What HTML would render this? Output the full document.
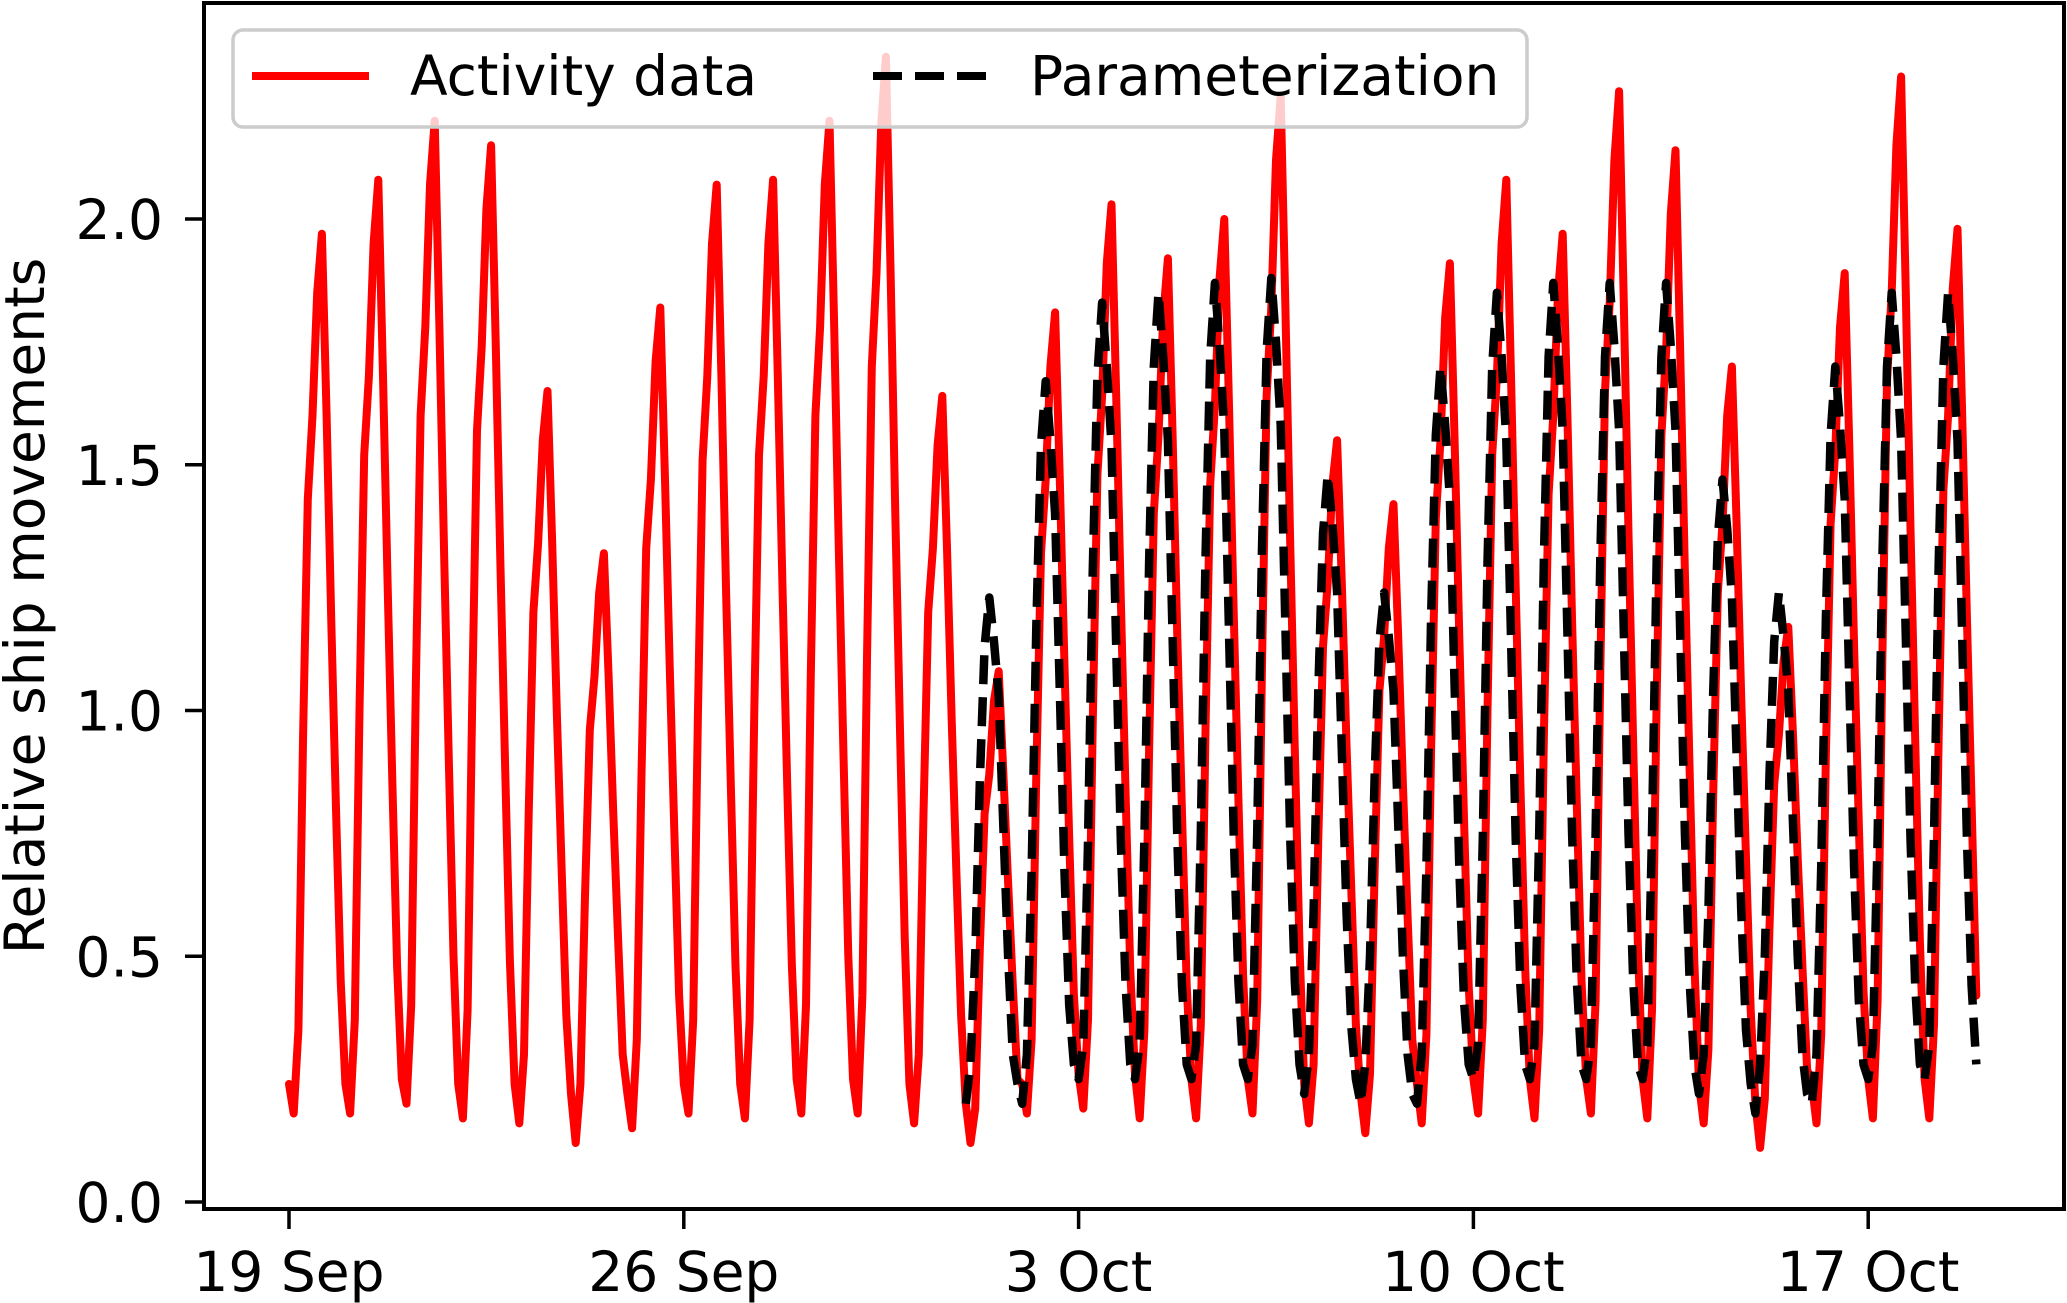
<!DOCTYPE html>
<html><head><meta charset="utf-8"><style>
html,body{margin:0;padding:0;background:#fff;}
svg{display:block;font-family:"DejaVu Sans","Liberation Sans",sans-serif;}
</style></head><body>
<svg id="chart" width="2067" height="1303" viewBox="0 0 2067 1303" xmlns="http://www.w3.org/2000/svg">
<rect x="0" y="0" width="2067" height="1303" fill="#fff"/>
<g id="plot"></g>
<g id="axes"></g>
<text transform="translate(44,606) rotate(-90)" text-anchor="middle" font-size="55" fill="#000">Relative ship movements</text>
<g>
<rect x="233" y="30" width="1294" height="97" rx="10" fill="#fff" fill-opacity="0.8" stroke="#cccccc" stroke-width="3.5"/>
<line x1="252" y1="76" x2="369" y2="76" stroke="#ff0000" stroke-width="8"/>
<text x="410" y="95" font-size="55" fill="#000">Activity data</text>
<line x1="873" y1="76" x2="986" y2="76" stroke="#000" stroke-width="8" stroke-dasharray="29 13"/>
<text x="1030" y="95" font-size="55" fill="#000">Parameterization</text>
</g>
</svg>
<script>
const activityDays = [
[0.24,0.18,0.35,0.95,1.43,1.6,1.85,1.97,1.6,1.18,0.8,0.45],
[0.24,0.18,0.37,1.0,1.52,1.68,1.95,2.08,1.68,1.25,0.85,0.48],
[0.25,0.2,0.4,1.06,1.6,1.78,2.07,2.2,1.78,1.32,0.9,0.5],
[0.24,0.17,0.39,1.03,1.57,1.74,2.02,2.15,1.74,1.29,0.88,0.49],
[0.24,0.16,0.3,0.79,1.2,1.34,1.55,1.65,1.34,0.99,0.68,0.38],
[0.22,0.12,0.24,0.63,0.96,1.07,1.24,1.32,1.07,0.79,0.54,0.3],
[0.22,0.15,0.33,0.87,1.33,1.47,1.71,1.82,1.47,1.09,0.75,0.42],
[0.24,0.18,0.37,0.99,1.51,1.68,1.95,2.07,1.68,1.24,0.85,0.48],
[0.24,0.17,0.37,1.0,1.52,1.68,1.95,2.08,1.68,1.25,0.85,0.48],
[0.25,0.18,0.4,1.06,1.6,1.78,2.07,2.2,1.78,1.32,0.9,0.5],
[0.25,0.18,0.42,1.12,1.7,1.89,2.19,2.33,1.89,1.4,0.96,0.54],
[0.24,0.16,0.3,0.79,1.2,1.33,1.54,1.64,1.33,0.98,0.67,0.38],
[0.2,0.12,0.19,0.52,0.79,0.87,1.02,1.08,0.87,0.65,0.44,0.25],
[0.24,0.18,0.33,0.87,1.32,1.47,1.7,1.81,1.47,1.09,0.74,0.42],
[0.26,0.19,0.37,0.97,1.48,1.64,1.91,2.03,1.64,1.22,0.83,0.47],
[0.26,0.17,0.35,0.92,1.4,1.56,1.8,1.92,1.56,1.15,0.79,0.44],
[0.25,0.17,0.36,0.96,1.46,1.62,1.88,2.0,1.62,1.2,0.82,0.46],
[0.25,0.18,0.41,1.08,1.64,1.82,2.12,2.25,1.82,1.35,0.92,0.52],
[0.24,0.16,0.28,0.74,1.13,1.26,1.46,1.55,1.26,0.93,0.64,0.36],
[0.22,0.14,0.26,0.68,1.04,1.15,1.33,1.42,1.15,0.85,0.58,0.33],
[0.24,0.16,0.34,0.92,1.39,1.55,1.8,1.91,1.55,1.15,0.78,0.44],
[0.25,0.18,0.37,1.0,1.52,1.68,1.95,2.08,1.68,1.25,0.85,0.48],
[0.25,0.17,0.35,0.95,1.44,1.6,1.85,1.97,1.6,1.18,0.81,0.45],
[0.25,0.18,0.41,1.08,1.65,1.83,2.12,2.26,1.83,1.36,0.93,0.52],
[0.25,0.17,0.39,1.03,1.56,1.73,2.01,2.14,1.73,1.28,0.88,0.49],
[0.24,0.16,0.31,0.82,1.24,1.38,1.6,1.7,1.38,1.02,0.7,0.39],
[0.2,0.11,0.21,0.56,0.85,0.95,1.1,1.17,0.95,0.7,0.48,0.27],
[0.24,0.16,0.34,0.91,1.38,1.53,1.78,1.89,1.53,1.13,0.77,0.43],
[0.25,0.17,0.41,1.1,1.67,1.85,2.15,2.29,1.85,1.37,0.94,0.53],
[0.25,0.17,0.36,0.95,1.45,1.6,1.86,1.98,1.6,1.19,0.81,0.42]
];
const paramStartDay = 12;
const paramDays = [
[0.2,0.28,0.5,0.86,1.13,1.23,1.14,1.03,0.76,0.5,0.3,0.24],
[0.2,0.3,0.67,1.17,1.54,1.67,1.55,1.4,1.04,0.67,0.4,0.28],
[0.25,0.32,0.73,1.28,1.68,1.83,1.7,1.54,1.13,0.73,0.44,0.28],
[0.25,0.32,0.74,1.3,1.7,1.85,1.72,1.55,1.15,0.74,0.44,0.28],
[0.25,0.32,0.75,1.31,1.72,1.87,1.74,1.57,1.16,0.75,0.45,0.28],
[0.25,0.32,0.75,1.32,1.73,1.88,1.75,1.58,1.17,0.75,0.45,0.28],
[0.22,0.3,0.59,1.04,1.36,1.48,1.38,1.24,0.92,0.59,0.36,0.25],
[0.2,0.28,0.5,0.87,1.14,1.24,1.15,1.04,0.77,0.5,0.3,0.22],
[0.2,0.3,0.68,1.19,1.56,1.7,1.58,1.43,1.05,0.68,0.41,0.28],
[0.25,0.32,0.74,1.3,1.7,1.85,1.72,1.55,1.15,0.74,0.44,0.28],
[0.25,0.32,0.75,1.31,1.72,1.87,1.74,1.57,1.16,0.75,0.45,0.28],
[0.25,0.32,0.75,1.31,1.72,1.87,1.74,1.57,1.16,0.75,0.45,0.28],
[0.25,0.32,0.75,1.31,1.72,1.87,1.74,1.57,1.16,0.75,0.45,0.28],
[0.22,0.3,0.59,1.03,1.35,1.47,1.37,1.23,0.91,0.59,0.35,0.24],
[0.18,0.28,0.5,0.87,1.14,1.24,1.15,1.04,0.77,0.5,0.3,0.22],
[0.2,0.3,0.68,1.19,1.56,1.7,1.58,1.43,1.05,0.68,0.41,0.28],
[0.25,0.32,0.74,1.3,1.7,1.85,1.72,1.55,1.15,0.74,0.44,0.28],
[0.25,0.32,0.74,1.3,1.7,1.85,1.72,1.55,1.15,0.74,0.44,0.28]
];
const xTickDays = [0, 7, 14, 21, 28];
const xTickLabels = ["19 Sep", "26 Sep", "3 Oct", "10 Oct", "17 Oct"];
const yTickValues = [0.0, 0.5, 1.0, 1.5, 2.0];
const yTickLabels = ["0.0", "0.5", "1.0", "1.5", "2.0"];

const NS = "http://www.w3.org/2000/svg";
const L = 204, R = 2064, T = 3, B = 1209;
function xOf(day){ return 289 + day * 56.4; }
function yOf(v){ return 1202 - v * 491.5; }
function mk(tag, attrs, parent){
  const e = document.createElementNS(NS, tag);
  for (const k in attrs) e.setAttribute(k, attrs[k]);
  parent.appendChild(e);
  return e;
}
const plot = document.getElementById('plot');
const axes = document.getElementById('axes');

function seriesPoints(days, startDay){
  const pts = [];
  days.forEach((vals, d) => {
    vals.forEach((v, i) => {
      pts.push(xOf(startDay + d + (i * 2) / 24).toFixed(1) + ',' + yOf(v).toFixed(1));
    });
  });
  return pts.join(' ');
}
const red = mk('polyline', {points: seriesPoints(activityDays, 0), fill:'none', stroke:'#ff0000', 'stroke-width':8, 'stroke-linejoin':'round', 'stroke-linecap':'round'}, plot);


const dash = mk('polyline', {points: seriesPoints(paramDays, paramStartDay), fill:'none', stroke:'#000', 'stroke-width':8.5, 'stroke-dasharray':'29 13', 'stroke-linejoin':'round'}, plot);



const frame = mk('rect', {x:L, y:T, width:R-L, height:B-T, fill:'none', stroke:'#000', 'stroke-width':4}, axes);



yTickValues.forEach((v, i) => {
  const y = yOf(v);
  const t = mk('line', {x1:L-19, y1:y, x2:L, y2:y, stroke:'#000', 'stroke-width':3.5}, axes);
  
  
  const lb = mk('text', {x:163, y:y+20, 'text-anchor':'end', 'font-size':55, fill:'#000'}, axes);
  lb.textContent = yTickLabels[i];
  
  
});
xTickDays.forEach((d, i) => {
  const x = xOf(d);
  const t = mk('line', {x1:x, y1:B, x2:x, y2:B+20, stroke:'#000', 'stroke-width':3.5}, axes);
  
  
  const lb = mk('text', {x:x, y:1291, 'text-anchor':'middle', 'font-size':55, fill:'#000'}, axes);
  lb.textContent = xTickLabels[i];
  
  
});
</script>
</body></html>
